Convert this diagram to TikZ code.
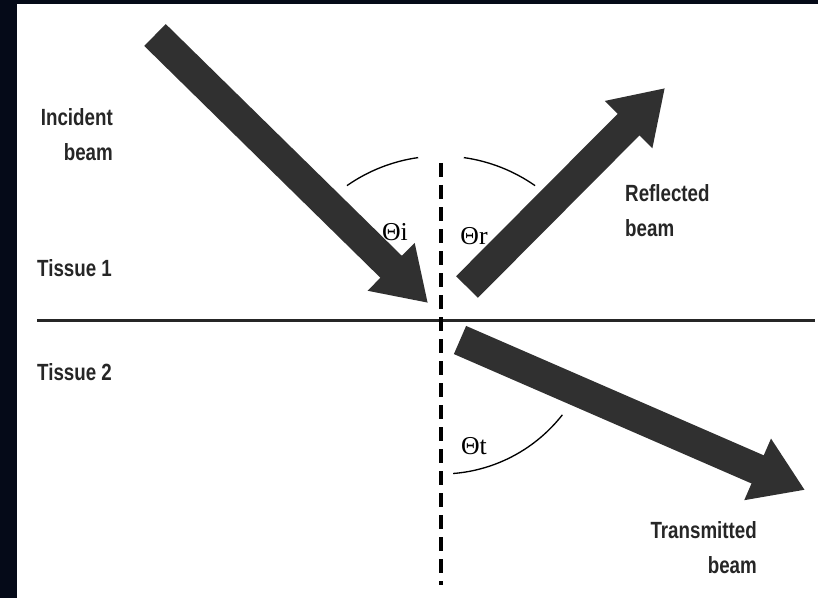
\documentclass[tikz,border=0pt]{standalone}
\usepackage{fontspec}
\setmainfont{Liberation Sans}[FakeStretch=0.8]
\newfontfamily\thetafont{Liberation Serif}
\usetikzlibrary{arrows.meta}
\definecolor{navy}{RGB}{5,10,24}
\definecolor{beamgray}{RGB}{48,48,48}
\tikzset{
  beam/.style={draw=beamgray, line width=0.92cm, -{Triangle[length=1.55cm,width=1.9cm]}},
  tag/.style={font=\bfseries\fontsize{20}{30}\selectfont, text=black!85, inner sep=0pt},
  anglelabel/.style={font=\thetafont\fontsize{22}{24}\selectfont, inner sep=0pt},
}
\begin{document}
\begin{tikzpicture}[x=0.03cm, y=-0.03cm]
        \useasboundingbox (0,0) rectangle (818,598);
        \fill [navy] (0,0) rectangle (818,598);
        \fill [white] (17,4) rectangle (818,598);
        % interface and normal
        \coordinate (O) at (441,320);
        \coordinate (lineL) at (37,320);
        \coordinate (lineR) at (815,320);
        \coordinate (normT) at (441,163);
        \coordinate (normB) at (441,585);
        \draw [line width=0.09cm, black!85] (lineL)--(lineR);
        \draw [line width=0.11cm, dash pattern=on 0.42cm off 0.24cm] (normT)--(normB);
        % beams
        \coordinate (inTail) at (155,35);
        \coordinate (inTip) at (428,303);
        \coordinate (reTail) at (467,287);
        \coordinate (reTip) at (665,88);
        \coordinate (trTail) at (460,340);
        \coordinate (trTip) at (805,490);
        \draw [beam] (inTail)--(inTip);
        \draw [beam] (reTail)--(reTip);
        \draw [beam] (trTail)--(trTip);
        % angles
        \draw [line width=0.04cm] (O) ++(-125:164) arc (-125:-98:164);
        \draw [line width=0.04cm] (O) ++(-82:164) arc (-82:-55:164);
        \draw [line width=0.04cm] (O) ++(85.5:154) arc (85.5:38:154);
        \node [anglelabel] (thetaI) at (395,232) {Θi};
        \node [anglelabel] (thetaR) at (474,236) {Θr};
        \node [anglelabel] (thetaT) at (474,446) {Θt};
        % labels
        \node [tag, align=right, anchor=east] (incident) at (113,135) {Incident\\beam};
        \node [tag, align=left, anchor=west] (reflected) at (625,211) {Reflected\\beam};
        \node [tag, align=right, anchor=east] (transmitted) at (757,548) {Transmitted\\beam};
        \node [tag, anchor=west] (tissueA) at (37,268) {Tissue 1};
        \node [tag, anchor=west] (tissueB) at (37,372) {Tissue 2};

\end{tikzpicture}
\end{document}
